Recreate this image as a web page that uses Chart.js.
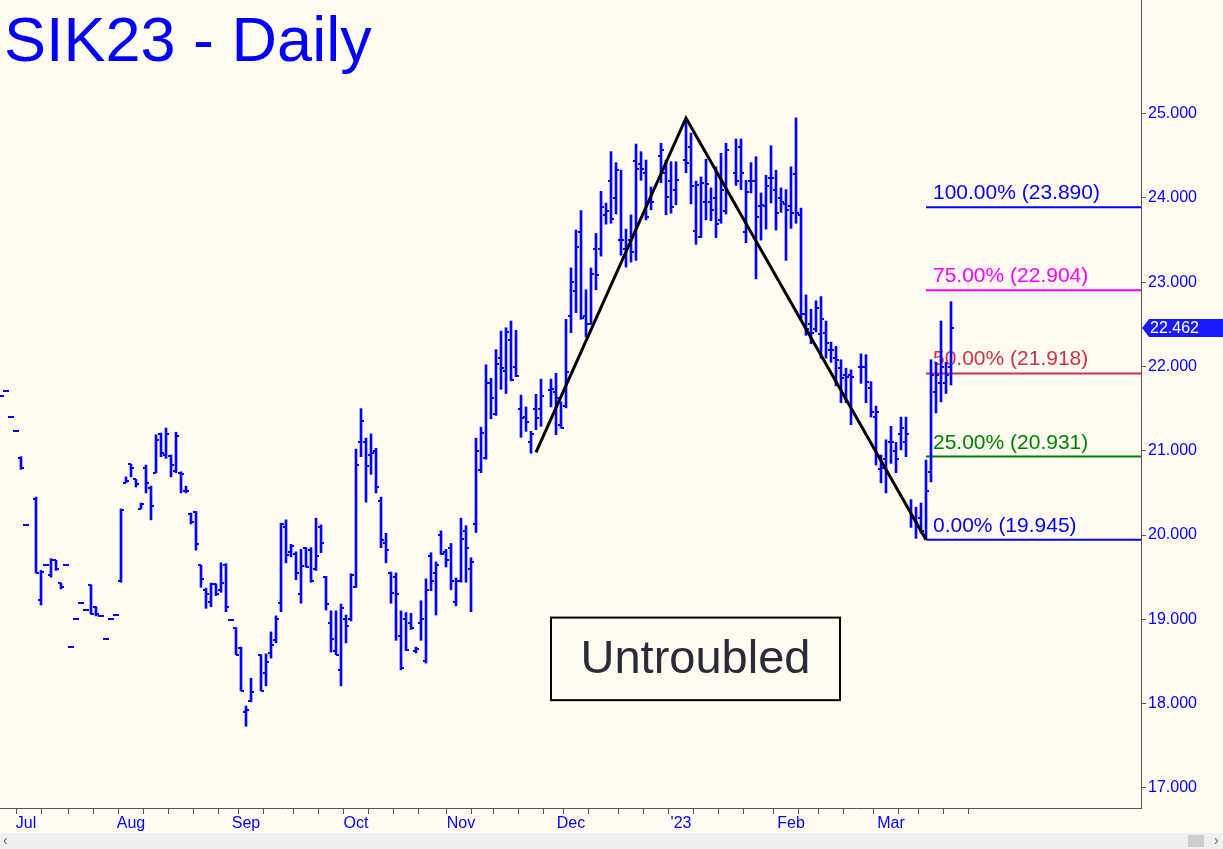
<!DOCTYPE html>
<html>
<head>
<meta charset="utf-8">
<title>SIK23 - Daily</title>
<script src="https://cdn.jsdelivr.net/npm/chart.js@4.4.0/dist/chart.umd.min.js"></script>
<style>
  html, body { margin: 0; padding: 0; background: #fffbf0; }
  #wrap { width: 1223px; height: 849px; }
</style>
</head>
<body>
<div id="wrap"><canvas id="silverChart" width="1223" height="849"></canvas></div>
<script>
// daily bars, one slot per trading day (null = exchange holiday)
const highs = [
  21.65, 21.71, 21.40, 21.23, 20.93, 20.12, null, 20.45, 19.58, 19.64,
  19.72, 19.70, 19.43, 19.64, 18.67, 19.00, 19.19, 19.11, 19.41, 19.15,
  19.04, 18.77, 19.00, 19.05, 20.31, 20.69, 20.84, 20.66, 20.38, 20.83,
  20.58, 21.19, 21.21, 21.27, 20.95, 21.22, 20.75, 20.58, 20.26, 20.28,
  19.64, 19.37, 19.43, 19.42, 19.67, 19.66, 18.99, 18.90, 18.67, 17.97,
  18.30, null, 18.58, 18.59, 18.85, 19.04, 20.14, 20.18, 19.89, 19.80,
  19.83, 19.85, 19.85, 20.20, 20.12, 19.51, 19.10, 19.10, 19.18, 19.05,
  19.54, 21.02, 21.50, 21.15, 21.20, 21.03, 20.45, 20.02, 19.56, 19.55,
  19.10, 19.08, 19.07, 18.67, 19.22, 19.48, 19.79, 19.68, 20.05, 19.83,
  19.90, 19.49, 20.20, 20.11, 19.73, 21.15, 21.28, 22.02, 21.86, 22.20,
  22.42, 22.46, 22.54, 22.43, 21.66, 21.52, 21.23, 21.67, 21.85, null,
  21.85, 21.92, 21.58, 22.56, 23.17, 23.62, 23.85, 22.91, 23.17, 23.58,
  24.08, 23.94, 24.55, 24.42, 24.33, 23.63, 23.80, 24.64, 24.55, 24.45,
  24.13, null, 24.65, 24.45, 24.43, 24.43, null, 24.93, 24.77, 24.20,
  24.25, 24.46, 24.12, 24.37, 24.53, 24.65, null, 24.70, 24.70, 24.21,
  24.42, 24.49, 24.06, 24.27, 24.62, 24.33, 24.12, 24.10, 24.37, 24.95,
  23.88, 22.85, 22.68, 22.78, 22.83, 22.54, 22.29, 22.24, 22.08, 21.98,
  21.96, null, 22.15, 22.14, 21.82, 21.53, 20.95, 21.13, 21.29, 21.10,
  21.40, 21.40, 20.42, 20.33, 20.38, 20.89, 22.08, 22.05, 22.54, 22.05,
  22.77
];
const lows = [
  21.65, 21.71, 21.40, 21.23, 20.78, 20.12, null, 19.55, 19.17, 19.64,
  19.50, 19.58, 19.36, 19.64, 18.67, 19.00, 19.19, 19.11, 19.06, 19.04,
  19.04, 18.77, 19.00, 19.05, 19.44, 20.62, 20.69, 20.57, 20.31, 20.50,
  20.18, 20.74, 20.93, 20.91, 20.69, 20.74, 20.50, 20.50, 20.13, 19.82,
  19.38, 19.13, 19.15, 19.28, 19.32, 19.09, 18.99, 18.58, 18.15, 17.73,
  18.02, null, 18.15, 18.21, 18.54, 18.72, 19.09, 19.67, 19.74, 19.47,
  19.19, 19.62, 19.44, 19.58, 19.79, 19.11, 18.61, 18.58, 18.21, 18.72,
  18.98, 19.38, 20.93, 20.39, 20.72, 20.50, 19.85, 19.67, 19.19, 18.75,
  18.40, 18.63, 18.88, 18.60, 18.75, 18.48, 19.34, 19.05, 19.77, 19.62,
  19.35, 19.16, 19.44, 19.44, 19.09, 20.03, 20.74, 20.90, 21.38, 21.42,
  21.73, 21.68, 21.83, 21.88, 21.16, 21.23, 20.97, 21.25, 21.29, null,
  21.52, 21.19, 21.27, 21.51, 22.40, 22.64, 22.56, 22.35, 22.50, 22.91,
  23.31, 23.69, 23.70, 23.81, 23.32, 23.18, 23.24, 23.26, 24.21, 23.74,
  23.86, null, 24.18, 23.80, 23.82, 23.92, null, 24.30, 23.93, 23.45,
  23.53, 23.74, 23.73, 23.53, 23.70, 23.81, null, 24.15, 24.10, 23.47,
  24.06, 23.04, 23.50, 23.63, 23.94, 23.62, 23.83, 23.26, 23.64, 23.70,
  22.55, 22.37, 22.27, 22.41, 22.10, 22.10, 22.05, 21.77, 21.57, 21.57,
  21.31, null, 21.80, 21.57, 21.40, 20.83, 20.62, 20.50, 20.85, 20.74,
  21.01, 20.93, 20.09, 19.96, 20.02, 19.95, 20.63, 21.45, 21.58, 21.68,
  21.78
];
const opens = [
  21.65, 21.71, 21.40, 21.23, 20.92, 20.12, null, 20.43, 19.23, 19.64,
  19.52, 19.70, 19.43, 19.64, 18.67, 19.00, 19.19, 19.11, 19.41, 19.14,
  19.04, 18.77, 19.00, 19.05, 19.45, 20.62, 20.84, 20.66, 20.31, 20.80,
  20.56, 20.74, 21.20, 20.95, 20.94, 20.76, 20.74, 20.52, 20.25, 20.27,
  19.64, 19.35, 19.20, 19.42, 19.35, 19.65, 18.99, 18.90, 18.66, 17.90,
  18.03, null, 18.57, 18.36, 18.60, 18.75, 19.19, 20.10, 19.80, 19.78,
  19.30, 19.84, 19.82, 19.60, 20.10, 19.50, 18.96, 18.62, 18.40, 19.00,
  19.00, 19.38, 21.10, 21.10, 20.95, 21.00, 20.40, 19.90, 19.55, 19.50,
  18.80, 19.00, 18.95, 18.62, 18.95, 18.50, 19.75, 19.55, 20.00, 19.80,
  19.85, 19.20, 19.45, 20.05, 19.60, 20.13, 20.77, 20.92, 21.80, 21.44,
  22.10, 21.95, 22.32, 22.00, 21.50, 21.40, 21.10, 21.50, 21.50, null,
  21.72, 21.70, 21.30, 21.53, 22.60, 22.90, 23.60, 22.60, 22.50, 23.40,
  23.40, 23.80, 24.20, 24.00, 23.50, 23.40, 23.50, 24.44, 24.40, 24.30,
  23.95, null, 24.50, 24.30, 24.20, 24.10, null, 24.45, 24.60, 23.61,
  23.54, 23.95, 23.95, 24.00, 23.74, 23.85, null, 24.30, 24.60, 23.60,
  24.20, 24.20, 23.90, 23.90, 24.24, 24.10, 24.00, 23.93, 23.90, 24.28,
  23.80, 22.62, 22.50, 22.45, 22.38, 22.40, 22.20, 22.10, 21.98, 21.90,
  21.90, null, 22.00, 22.00, 21.75, 21.40, 20.78, 20.90, 21.10, 21.00,
  21.20, 21.10, 20.30, 20.20, 20.20, 20.00, 20.75, 21.70, 21.80, 21.80,
  22.00
];
const closes = [
  21.65, 21.71, 21.40, 21.23, 20.80, 20.12, null, 19.55, 19.56, 19.64,
  19.70, 19.60, 19.38, 19.64, 18.67, 19.00, 19.19, 19.11, 19.06, 19.06,
  19.04, 18.77, 19.00, 19.05, 20.30, 20.64, 20.80, 20.60, 20.37, 20.62,
  20.34, 21.13, 20.97, 21.20, 20.83, 21.18, 20.73, 20.52, 20.15, 19.89,
  19.48, 19.30, 19.42, 19.30, 19.43, 19.14, 18.99, 18.58, 18.15, 17.92,
  18.14, null, 18.15, 18.49, 18.69, 19.00, 20.13, 19.76, 19.87, 19.55,
  19.63, 19.62, 19.46, 19.75, 19.90, 19.18, 18.76, 18.58, 19.13, 18.92,
  19.52, 20.83, 21.35, 20.82, 20.97, 20.57, 19.94, 19.82, 19.31, 19.30,
  18.42, 18.64, 18.90, 18.65, 19.00, 19.35, 19.45, 19.64, 19.78, 19.70,
  19.45, 19.46, 19.95, 19.85, 19.68, 21.00, 21.21, 21.80, 21.63, 22.03,
  21.98, 22.41, 21.84, 21.89, 21.39, 21.34, 21.20, 21.39, 21.65, null,
  21.73, 21.63, 21.27, 21.93, 23.00, 23.42, 22.58, 22.50, 23.10, 23.09,
  23.89, 23.85, 23.75, 24.33, 23.50, 23.42, 23.36, 24.35, 24.35, 23.77,
  23.95, null, 24.57, 24.01, 23.89, 24.21, null, 24.42, 24.14, 24.15,
  24.18, 24.17, 23.86, 23.69, 24.10, 24.57, null, 24.20, 24.30, 24.07,
  24.20, 23.77, 23.92, 24.14, 24.24, 23.82, 23.95, 23.86, 23.82, 23.82,
  22.62, 22.45, 22.40, 22.70, 22.56, 22.28, 22.20, 22.08, 21.86, 21.88,
  21.87, null, 22.00, 21.82, 21.46, 21.46, 20.80, 20.75, 21.10, 20.90,
  21.27, 21.20, 20.20, 20.10, 20.05, 20.52, 21.90, 21.90, 22.00, 21.90,
  22.462
];

const monthTicks = [5, 26, 49, 71, 92, 114, 136, 158, 178];
const monthLabels = ['Jul', 'Aug', 'Sep', 'Oct', 'Nov', 'Dec', "'23", 'Feb', 'Mar'];
const weekTicks = [1, 11, 16, 21, 31, 36, 41, 46, 56, 61, 66, 76, 81, 86, 96, 101, 106, 111,
  121, 126, 131, 141, 146, 151, 161, 166, 171, 181, 186, 191];
const priceTicks = [17, 18, 19, 20, 21, 22, 23, 24, 25];

// swing drawn by hand on the chart, and the retracement levels off it
const swingX = [107, 137, 185];
const swingY = [20.98, 24.95, 19.945];
const fibPcts = ['100.00%', '75.00%', '50.00%', '25.00%', '0.00%'];
const fibLevels = [23.890, 22.904, 21.918, 20.931, 19.945];

const fibColors = ['#0000ff', '#ff00ff', '#cc3344', '#008000', '#0000ff'];
const barBlue = '#0000ff';
const bg = '#fffbf0';
const xMin = -0.2, xMax = 228;
const fibStart = swingX[2];

const font = '"Liberation Sans", Arial, sans-serif';
Chart.defaults.font.family = font;

const hlBars = highs
  .map((h, i) => (h === null ? null : { x: i, y: [lows[i], h] }))
  .filter(Boolean);

const swingLine = swingX.map((x, i) => ({ x: x, y: swingY[i] }));

const fibSets = fibLevels.map((v, i) => ({
  type: 'line',
  data: [{ x: fibStart, y: v }, { x: xMax, y: v }],
  borderColor: fibColors[i],
  borderWidth: 2,
  pointRadius: 0,
  tension: 0
}));

// open (left) and close (right) ticks, drawn under the datasets
const ohlcTicks = {
  id: 'ohlcTicks',
  beforeDatasetsDraw(chart) {
    const { ctx, scales: { x, y } } = chart;
    ctx.save();
    ctx.fillStyle = barBlue;
    opens.forEach((o, i) => {
      if (o === null) return;
      const px = Math.round(x.getPixelForValue(i));
      ctx.fillRect(px - 3, Math.round(y.getPixelForValue(o)) - 1, 3, 2);
      ctx.fillRect(px, Math.round(y.getPixelForValue(closes[i])) - 1, 3, 2);
    });
    // retracement labels sit under the bars
    ctx.font = '21px ' + font;
    ctx.textBaseline = 'alphabetic';
    ctx.textAlign = 'left';
    const lx = x.getPixelForValue(fibStart) + 7;
    fibLevels.forEach((v, i) => {
      ctx.fillStyle = fibColors[i];
      ctx.fillText(fibPcts[i] + ' (' + v.toFixed(3) + ')', lx, y.getPixelForValue(v) - 8);
    });
    ctx.restore();
  }
};

const chrome = {
  id: 'chrome',
  beforeDraw(chart) {
    const { ctx } = chart;
    ctx.save();
    ctx.fillStyle = bg;
    ctx.fillRect(0, 0, chart.width, chart.height);
    ctx.restore();
  },
  afterDraw(chart) {
    const { ctx, scales: { x, y } } = chart;
    ctx.save();

    // title
    ctx.fillStyle = '#0000ff';
    ctx.font = '63px ' + font;
    ctx.textBaseline = 'alphabetic';
    ctx.fillText('SIK23 - Daily', 4, 61);

    // comment box
    const bx0 = x.getPixelForValue(110), bx1 = x.getPixelForValue(167.8);
    const by0 = y.getPixelForValue(19.02), by1 = y.getPixelForValue(18.04);
    ctx.fillStyle = bg;
    ctx.fillRect(bx0, by0, bx1 - bx0, by1 - by0);
    ctx.strokeStyle = '#000';
    ctx.lineWidth = 2;
    ctx.strokeRect(bx0, by0, bx1 - bx0, by1 - by0);
    ctx.fillStyle = '#2a2a38';
    ctx.font = '47px ' + font;
    ctx.textAlign = 'center';
    ctx.textBaseline = 'middle';
    ctx.fillText('Untroubled', (bx0 + bx1) / 2, (by0 + by1) / 2 + 1);

    // last price tag on the axis
    const last = closes[closes.length - 1];
    const ty = Math.round(y.getPixelForValue(last));
    const ax = chart.chartArea.right;
    ctx.fillStyle = '#1a1aff';
    ctx.beginPath();
    ctx.moveTo(ax + 1, ty);
    ctx.lineTo(ax + 8, ty - 9);
    ctx.lineTo(chart.width, ty - 9);
    ctx.lineTo(chart.width, ty + 9);
    ctx.lineTo(ax + 8, ty + 9);
    ctx.closePath();
    ctx.fill();
    ctx.fillStyle = '#fff';
    ctx.font = '16px ' + font;
    ctx.textAlign = 'left';
    ctx.fillText(last.toFixed(3), ax + 9, ty + 1);

    // scroll strip
    ctx.fillStyle = '#f0f0f0';
    ctx.fillRect(0, 833, chart.width, 16);
    ctx.fillStyle = '#cdcdcd';
    ctx.fillRect(1188, 835, 16, 12);
    ctx.fillStyle = '#606060';
    ctx.font = '14px ' + font;
    ctx.fillText('\u2039', 3, 841);
    ctx.fillText('\u203A', 1214, 841);
    ctx.restore();
  }
};

new Chart(document.getElementById('silverChart').getContext('2d'), {
  type: 'bar',
  data: {
    datasets: [
      {
        type: 'line',
        data: swingLine,
        borderColor: '#000',
        borderWidth: 3,
        pointRadius: 0,
        tension: 0,
        borderJoinStyle: 'miter'
      },
      {
        type: 'bar',
        data: hlBars,
        backgroundColor: barBlue,
        borderWidth: 0,
        barThickness: 2,
        grouped: false
      },
      ...fibSets
    ]
  },
  options: {
    responsive: false,
    animation: false,
    devicePixelRatio: 1,
    layout: { padding: 0 },
    plugins: { legend: { display: false }, tooltip: { enabled: false } },
    scales: {
      x: {
        type: 'linear',
        offset: false,
        min: xMin,
        max: xMax,
        grid: { drawOnChartArea: false, drawTicks: true, tickLength: 6, color: '#555' },
        border: { display: true, color: '#555', width: 1 },
        ticks: {
          autoSkip: false,
          maxRotation: 0,
          padding: 0,
          color: '#0000ff',
          font: { size: 16 },
          callback: (v) => {
            const k = monthTicks.indexOf(v);
            return k >= 0 ? monthLabels[k] : '';
          }
        },
        afterBuildTicks: (s) => {
          s.ticks = monthTicks.concat(weekTicks).sort((a, b) => a - b).map(v => ({ value: v }));
        },
        afterFit: (s) => { s.height = 41; s.paddingLeft = 0; s.paddingRight = 0; }
      },
      y: {
        position: 'right',
        min: 16.76,
        max: 26.35,
        grid: { drawOnChartArea: false, drawTicks: true, tickLength: 5, color: '#555' },
        border: { display: true, color: '#555', width: 1 },
        ticks: {
          padding: 2,
          color: '#0000ff',
          font: { size: 16 },
          callback: (v) => Number(v).toFixed(3)
        },
        afterBuildTicks: (s) => { s.ticks = priceTicks.map(v => ({ value: v })); },
        afterFit: (s) => { s.width = 82; s.paddingTop = 0; s.paddingBottom = 0; }
      }
    }
  },
  plugins: [chrome, ohlcTicks]
});
</script>
</body>
</html>
